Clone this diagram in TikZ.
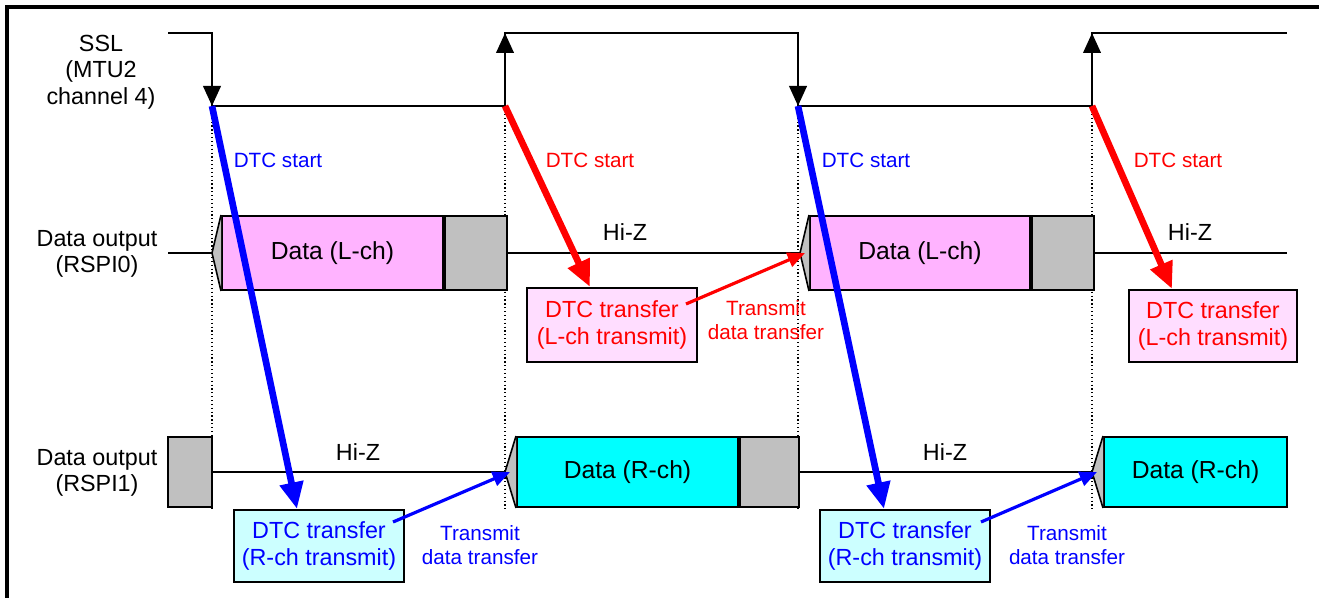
\documentclass[tikz,border=0pt]{standalone}
\usepackage{fontspec}
\setmainfont{Liberation Sans}
\usetikzlibrary{arrows.meta,calc}
\definecolor{lchpink}{RGB}{255,179,255}
\definecolor{rchcyan}{RGB}{0,255,255}
\definecolor{dtcpink}{RGB}{255,221,255}
\definecolor{dtccyan}{RGB}{204,255,255}
\definecolor{padgray}{RGB}{192,192,192}
\newcommand{\pxl}[1]{#1*0.75pt}
\tikzset{
  frameline/.style={line width=2.4pt},
  sigline/.style={line width=2.2pt, line join=miter},
  edgearrow/.style={line width=2.2pt, -{Triangle[length=15pt,width=13pt]}},
  hizline/.style={line width=1.1pt},
  guide/.style={dotted, line width=0.9pt},
  datablk/.style={draw, line width=1.5pt, inner sep=0pt, font=\fontsize{18.5}{21}\selectfont},
  dtcbox/.style={draw, line width=1.5pt, inner sep=0pt, align=center, minimum width=\pxl{170},
    font=\fontsize{17.5}{20}\selectfont},
  startarrow/.style={line width=5pt, -{Triangle[length=20pt,width=17pt]}},
  xferarrow/.style={line width=2.4pt, -{Triangle[length=13pt,width=11pt]}},
  lbl/.style={font=\fontsize{17.5}{20}\selectfont, align=center},
  smalllbl/.style={font=\fontsize{15.5}{18}\selectfont, align=center}
}
\begin{document}
\begin{tikzpicture}[x=0.75pt, y=-0.75pt]
  \useasboundingbox (0,0) rectangle (1319,598);
  % frame
  \draw[frameline] (7,598) -- (7,7) -- (1319,7);

  % signal names
  \node[lbl] (sslname) at (101,72) {SSL\\(MTU2\\channel 4)};
  \node[lbl] (rspi0name) at (97,254) {Data output\\(RSPI0)};
  \node[lbl] (rspi1name) at (97,473) {Data output\\(RSPI1)};

  % SSL waveform
  \coordinate (s0) at (168,33);
  \coordinate (f1) at (212,33);  \coordinate (f1b) at (212,106);
  \coordinate (r1b) at (505,106); \coordinate (r1) at (505,33);
  \coordinate (f2) at (798,33);  \coordinate (f2b) at (798,106);
  \coordinate (r2b) at (1092,106); \coordinate (r2) at (1092,33);
  \coordinate (s9) at (1287,33);
  \draw[sigline] (s0) -- (f1) -- (f1b) -- (r1b) -- (r1) -- (f2) -- (f2b) -- (r2b) -- (r2) -- (s9);
  \draw[edgearrow] (f1) -- (f1b);
  \draw[edgearrow] (r1b) -- (r1);
  \draw[edgearrow] (f2) -- (f2b);
  \draw[edgearrow] (r2b) -- (r2);

  % timing guides
  \foreach \gx in {212,505,798,1092}
    \draw[guide] (\gx,110) -- (\gx,512);

  % RSPI0
  \coordinate (tipL1) at (212,253);
  \coordinate (tipL2) at (800,253);
  \node[datablk, fill=lchpink, minimum width=\pxl{221}, minimum height=\pxl{74}] (datL1) at (332.5,253) {Data (L-ch)};
  \node[datablk, fill=padgray, minimum width=\pxl{62}, minimum height=\pxl{74}, anchor=west] (padL1) at (datL1.east) {};
  \node[datablk, fill=lchpink, minimum width=\pxl{220}, minimum height=\pxl{74}] (datL2) at (920,253) {Data (L-ch)};
  \node[datablk, fill=padgray, minimum width=\pxl{62}, minimum height=\pxl{74}, anchor=west] (padL2) at (datL2.east) {};
  \filldraw[fill=padgray, line width=1.2pt] (datL1.north west) -- (tipL1) -- (datL1.south west);
  \filldraw[fill=padgray, line width=1.2pt] (datL2.north west) -- (tipL2) -- (datL2.south west);
  \draw[hizline] (168,253) -- (tipL1);
  \draw[hizline] (padL1.east) -- (tipL2);
  \draw[hizline] (padL2.east) -- (1287,253);
  \node[lbl] (hizL1) at (625,232) {Hi-Z};
  \node[lbl] (hizL2) at (1190,232) {Hi-Z};

  % RSPI1
  \coordinate (tipR1) at (505,472);
  \coordinate (tipR2) at (1092,472);
  \node[datablk, fill=padgray, minimum width=\pxl{44}, minimum height=\pxl{70}] (padR0) at (190,472) {};
  \node[datablk, fill=rchcyan, minimum width=\pxl{221}, minimum height=\pxl{70}] (datR1) at (627.5,472) {Data (R-ch)};
  \node[datablk, fill=padgray, minimum width=\pxl{59}, minimum height=\pxl{70}, anchor=west] (padR1) at (datR1.east) {};
  \node[datablk, fill=rchcyan, minimum width=\pxl{183}, minimum height=\pxl{70}] (datR2) at (1195.5,472) {Data (R-ch)};
  \filldraw[fill=padgray, line width=1.2pt] (datR1.north west) -- (tipR1) -- (datR1.south west);
  \filldraw[fill=padgray, line width=1.2pt] (datR2.north west) -- (tipR2) -- (datR2.south west);
  \draw[hizline] (padR0.east) -- (tipR1);
  \draw[hizline] (padR1.east) -- (tipR2);
  \node[lbl] (hizR1) at (358,452) {Hi-Z};
  \node[lbl] (hizR2) at (945,452) {Hi-Z};

  % DTC transfer boxes
  \node[dtcbox, fill=dtcpink, text=red, minimum height=\pxl{74}] (dtcL1) at (612,325) {DTC transfer\\(L-ch transmit)};
  \node[dtcbox, fill=dtcpink, text=red, minimum height=\pxl{72}, minimum width=\pxl{168}] (dtcL2) at (1213,326) {DTC transfer\\(L-ch transmit)};
  \node[dtcbox, fill=dtccyan, text=blue, minimum height=\pxl{72}] (dtcR1) at (319,546) {DTC transfer\\(R-ch transmit)};
  \node[dtcbox, fill=dtccyan, text=blue, minimum height=\pxl{72}] (dtcR2) at (905,546) {DTC transfer\\(R-ch transmit)};

  % DTC start
  \draw[startarrow, blue] (f1b) -- ([xshift=-16.5pt]dtcR1.north);
  \draw[startarrow, red] (r1b) -- ([xshift=-16.5pt]dtcL1.north);
  \draw[startarrow, blue] (f2b) -- ([xshift=-15.75pt]dtcR2.north);
  \draw[startarrow, red] (r2b) -- ([xshift=-30.75pt]dtcL2.north);
  \node[smalllbl, text=blue] (startR1) at (278,160) {DTC start};
  \node[smalllbl, text=red] (startL1) at (590,160) {DTC start};
  \node[smalllbl, text=blue] (startR2) at (866,160) {DTC start};
  \node[smalllbl, text=red] (startL2) at (1178,160) {DTC start};

  % transmit data transfer
  \draw[xferarrow, red] ($(dtcL1.east)+(-12,-21)$) -- ($(tipL2)+(5,0)$);
  \draw[xferarrow, blue] ($(dtcR1.east)+(-12,-24)$) -- ($(tipR1)+(5,0)$);
  \draw[xferarrow, blue] ($(dtcR2.east)+(-10,-24)$) -- ($(tipR2)+(5,0)$);
  \node[smalllbl, text=red] (xferL1) at (766,320) {Transmit\\data transfer};
  \node[smalllbl, text=blue] (xferR1) at (480,545) {Transmit\\data transfer};
  \node[smalllbl, text=blue] (xferR2) at (1067,545) {Transmit\\data transfer};
\end{tikzpicture}
\end{document}
